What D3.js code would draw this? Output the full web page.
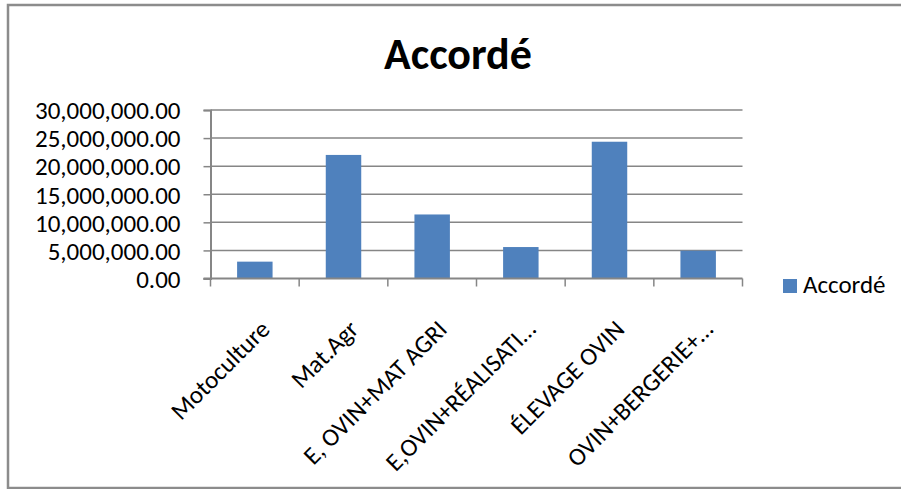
<!DOCTYPE html>
<html>
<head>
<meta charset="utf-8">
<script src="https://cdn.jsdelivr.net/npm/d3@7/dist/d3.min.js"></script>
<style>
  html, body { margin: 0; padding: 0; background: #fff; }
  svg { display: block; }
  text { font-family: Calibri, Carlito, "Liberation Sans", Arial, sans-serif; fill: #000; }
</style>
</head>
<body>
<svg id="chart" width="901" height="489"></svg>
<script>
// Amounts granted per project type
const categories = [
  "Motoculture",
  "Mat.Agr",
  "E, OVIN+MAT AGRI",
  "E,OVIN+RÉALISATI…",
  "ÉLEVAGE OVIN",
  "OVIN+BERGERIE+…"
];
const accorde = [3000000, 22000000, 11400000, 5600000, 24350000, 4950000];
const yTicks = [0, 5000000, 10000000, 15000000, 20000000, 25000000, 30000000];
const seriesName = "Accordé";
const chartTitle = "Accordé";

const svg = d3.select("#chart");
const W = 901;
const plot = { left: 210.5, right: 742.5, top: 110, bottom: 278.5 };
const gridColor = "#868686";
const barColor = "#4F81BD";
const fontPx = "25px";

// outer frame (right edge runs past the canvas)
svg.append("rect")
  .attr("x", 8).attr("y", 5)
  .attr("width", W).attr("height", 483)
  .attr("fill", "#fff")
  .attr("stroke", "#8c8c8c").attr("stroke-width", 2.5);

// title
svg.append("text")
  .attr("x", 458).attr("y", 69)
  .attr("text-anchor", "middle")
  .style("font-size", "44px").style("font-weight", "bold")
  .text(chartTitle);

const x = d3.scaleBand().domain(categories)
  .range([plot.left, plot.right])
  .paddingInner(0.6).paddingOuter(0.3);
const y = d3.scaleLinear().domain([0, 30000000]).range([plot.bottom, plot.top]);

const fmt = d3.format(",.2f");

// gridlines
svg.append("g")
  .selectAll("line").data(yTicks.filter(d => d > 0)).join("line")
  .attr("x1", plot.left).attr("x2", plot.right)
  .attr("y1", d => y(d)).attr("y2", d => y(d))
  .attr("stroke", gridColor).attr("stroke-width", 1.5);

// y axis
const yAxis = svg.append("g")
  .attr("transform", `translate(${plot.left},0)`)
  .call(d3.axisLeft(y).tickValues(yTicks).tickFormat(fmt).tickSize(7).tickPadding(23));
yAxis.select(".domain").attr("stroke", gridColor).attr("stroke-width", 2);
yAxis.selectAll(".tick line").attr("stroke", gridColor).attr("stroke-width", 1.5);
yAxis.selectAll(".tick text")
  .style("font-size", fontPx)
  .attr("dy", "0.35em");

// bars
svg.append("g")
  .selectAll("rect").data(categories).join("rect")
  .attr("x", d => x(d))
  .attr("width", x.bandwidth())
  .attr("y", (d, i) => y(accorde[i]))
  .attr("height", (d, i) => y(0) - y(accorde[i]))
  .attr("fill", barColor);

// x axis baseline and category boundary ticks
const step = x.step();
const xAxis = svg.append("g");
xAxis.append("line")
  .attr("x1", plot.left - 7).attr("x2", plot.right)
  .attr("y1", plot.bottom).attr("y2", plot.bottom)
  .attr("stroke", gridColor).attr("stroke-width", 2);
xAxis.selectAll("line.tk").data(d3.range(categories.length + 1)).join("line")
  .attr("class", "tk")
  .attr("x1", i => plot.left + i * step).attr("x2", i => plot.left + i * step)
  .attr("y1", plot.bottom).attr("y2", plot.bottom + 8)
  .attr("stroke", gridColor).attr("stroke-width", 1.5);

// rotated category labels
xAxis.selectAll("text").data(categories).join("text")
  .attr("transform", d => `translate(${x(d) + x.bandwidth() / 2 + 4},${plot.bottom + 40}) rotate(-45)`)
  .attr("text-anchor", "end")
  .attr("dy", "0.7em")
  .style("font-size", fontPx)
  .text(d => d);

// legend
const lg = svg.append("g").attr("transform", "translate(783,279)");
lg.append("rect").attr("width", 14).attr("height", 14).attr("fill", barColor);
lg.append("text").attr("x", 20).attr("y", 14)
  .style("font-size", fontPx)
  .text(seriesName);
</script>
</body>
</html>
